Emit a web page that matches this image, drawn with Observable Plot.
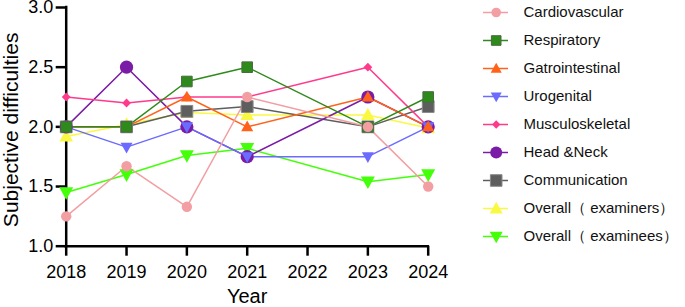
<!DOCTYPE html>
<html>
<head>
<meta charset="utf-8">
<script src="https://cdn.jsdelivr.net/npm/d3@7"></script>
<script src="https://cdn.jsdelivr.net/npm/@observablehq/plot@0.6"></script>
<style>
  html, body { margin: 0; padding: 0; background: white; }
  #chart { display: flex; width: 685px; height: 307px; font-family: "Liberation Sans", Arial, sans-serif; }
  #chart svg { overflow: visible; }
</style>
</head>
<body>
<div id="chart"></div>
<script>
// ---- data ----
const years = [2018, 2019, 2020, 2021, 2023, 2024];
const xTicks = [2018, 2019, 2020, 2021, 2022, 2023, 2024];
const yTicks = [1.0, 1.5, 2.0, 2.5, 3.0];
const seriesNames = ["Cardiovascular", "Respiratory", "Gatrointestinal", "Urogenital", "Musculoskeletal", "Head &Neck", "Communication", "Overall（ examiners）", "Overall（ examinees）"];
const cardiovascular   = [1.25, 1.67, 1.33, 2.25, 2.00, 1.50];
const respiratory      = [2.00, 2.00, 2.38, 2.50, 2.00, 2.25];
const gastrointestinal = [2.00, 2.00, 2.25, 2.00, 2.25, 2.00];
const urogenital       = [2.00, 1.83, 2.00, 1.75, 1.75, 2.00];
const musculoskeletal  = [2.25, 2.20, 2.25, 2.25, 2.50, 2.00];
const headNeck         = [2.00, 2.50, 2.00, 1.75, 2.25, 2.00];
const communication    = [2.00, 2.00, 2.13, 2.17, 2.00, 2.17];
const overallExaminers = [1.92, 2.02, 2.12, 2.10, 2.10, 1.99];
const overallExaminees = [1.45, 1.60, 1.76, 1.82, 1.54, 1.60];
const xLabel = "Year";
const yLabel = "Subjective difficulties";

// ---- symbols ----
const R = s => Math.sqrt(s / Math.PI);
const symCircle = {draw(c, s) { const r = R(s); c.moveTo(r, 0); c.arc(0, 0, r, 0, 2 * Math.PI); c.closePath(); }};
const symSquare = {draw(c, s) { const r = R(s); c.moveTo(-r, -r); c.lineTo(r, -r); c.lineTo(r, r); c.lineTo(-r, r); c.closePath(); }};
const symTriUp = {draw(c, s) { const r = R(s); c.moveTo(0, -1.05 * r); c.lineTo(r, 0.75 * r); c.lineTo(-r, 0.75 * r); c.closePath(); }};
const symTriDown = {draw(c, s) { const r = R(s); c.moveTo(0, 1.05 * r); c.lineTo(r, -0.75 * r); c.lineTo(-r, -0.75 * r); c.closePath(); }};
const symDiamond = {draw(c, s) { const r = R(s); c.moveTo(0, -r); c.lineTo(r, 0); c.lineTo(0, r); c.lineTo(-r, 0); c.closePath(); }};

const valueArrays = [cardiovascular, respiratory, gastrointestinal, urogenital, musculoskeletal, headNeck, communication, overallExaminers, overallExaminees];
const styles = [
  {color: "#F29EA2", symbol: symCircle, r: 5.2, lr: 4.8},
  {color: "#2F8A1C", symbol: symSquare, r: 5.3, lr: 4.8, stroke: "#4a6a40"},
  {color: "#FF6218", symbol: symTriUp, r: 6.0, lr: 5.5},
  {color: "#6B6BFF", symbol: symTriDown, r: 6.0, lr: 5.5},
  {color: "#FF3A8C", symbol: symDiamond, r: 4.4, lr: 4.2},
  {color: "#7A1CA6", symbol: symCircle, r: 6.6, lr: 6.0},
  {color: "#5E5E5E", symbol: symSquare, r: 5.9, lr: 5.8, stroke: "#8a8a8a"},
  {color: "#F9F944", symbol: symTriUp, r: 6.8, lr: 6.5},
  {color: "#44FF0A", symbol: symTriDown, r: 7.0, lr: 6.5}
];
const series = seriesNames.map((name, i) => ({
  name, ...styles[i],
  rows: years.map((year, j) => ({year, value: valueArrays[i][j]}))
}));
const drawOrder = series.slice().reverse();

const font = "Liberation Sans, Arial, sans-serif";

const main = Plot.plot({
  width: 440, height: 307,
  marginLeft: 65.7, marginRight: 12.3, marginTop: 7, marginBottom: 61.3,
  style: {fontFamily: font, background: "white", color: "black", overflow: "visible"},
  x: {domain: [2018, 2024]},
  y: {domain: [1, 3]},
  marks: [
    Plot.axisX({ticks: xTicks, tickFormat: d => String(d), tickSize: 10, tickPadding: 9, fontSize: 18, strokeWidth: 2.5, stroke: "black", fill: "black", label: null}),
    Plot.axisY({ticks: yTicks, tickFormat: d3.format(".1f"), tickSize: 10, tickPadding: 3, fontSize: 18, strokeWidth: 2.5, stroke: "black", fill: "black", label: null}),
    Plot.ruleY([1], {x1: 2018, x2: 2024, stroke: "black", strokeWidth: 2.5, strokeLinecap: "square"}),
    Plot.ruleX([2018], {y1: 1, y2: 3, stroke: "black", strokeWidth: 2.5, strokeLinecap: "square"}),
    ...drawOrder.map(s => Plot.line(s.rows, {x: "year", y: "value", stroke: s.color, strokeWidth: 1.5})),
    ...drawOrder.map(s => Plot.dot(s.rows, {x: "year", y: "value", symbol: s.symbol, r: s.r, fill: s.color, stroke: s.stroke || "none", strokeWidth: 1})),
    Plot.text([yLabel], {frameAnchor: "left", text: d => d, rotate: -90, textAnchor: "middle", lineAnchor: "middle", dx: -55, dy: 3, fontSize: 21, fill: "black"}),
    Plot.text([xLabel], {frameAnchor: "bottom", text: d => d, textAnchor: "middle", lineAnchor: "middle", dy: 50, fontSize: 20, fill: "black"})
  ]
});

const legend = Plot.plot({
  width: 245, height: 307, margin: 0,
  style: {fontFamily: font, background: "none", color: "black", overflow: "visible"},
  x: {type: "identity", axis: null},
  y: {type: "point", domain: seriesNames, range: [9.3, 238.3], padding: 0, axis: null},
  marks: [
    ...series.map(s => Plot.ruleY([s.name], {x1: 43, x2: 68, stroke: s.color, strokeWidth: 1.5})),
    ...series.map(s => Plot.dot([s.name], {x: 55.7, y: d => d, symbol: s.symbol, r: s.lr, fill: s.color, stroke: s.stroke || "none", strokeWidth: 1})),
    Plot.text(seriesNames, {x: 83, y: d => d, text: d => d, textAnchor: "start", fontSize: 15, fill: "#111"})
  ]
});

document.getElementById("chart").append(main, legend);
</script>
</body>
</html>
